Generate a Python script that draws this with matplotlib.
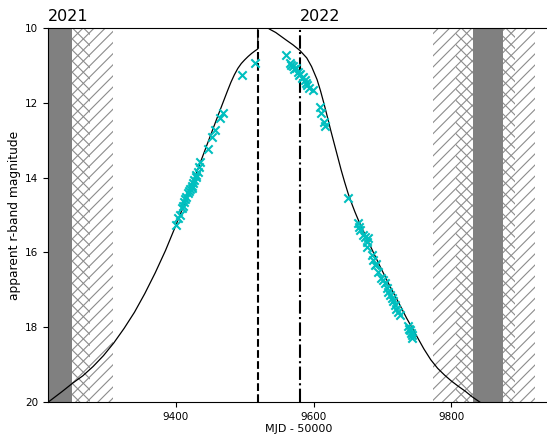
import numpy as np
import matplotlib
matplotlib.use('Agg')
import matplotlib.pyplot as plt

plt.rcParams['hatch.linewidth'] = 0.8

# Observed r-band photometry (MJD - 50000, apparent magnitude)
mjd_rise = [9399.6, 9403.3, 9405.8, 9409.0, 9410.6, 9411.5, 9413.0, 9415.5, 9417.9,
            9419.5, 9421.0, 9422.8, 9424.0, 9425.1, 9427.0, 9428.6, 9430.0, 9431.5,
            9433.8, 9434.8, 9446.0, 9451.8, 9456.6, 9463.9, 9468.6, 9496.3, 9514.7]
mag_rise = [15.27, 15.09, 15.00, 14.82, 14.76, 14.64, 14.58, 14.51, 14.40,
            14.36, 14.30, 14.29, 14.22, 14.15, 14.06, 13.99, 13.92, 13.84,
            13.71, 13.57, 13.24, 12.92, 12.73, 12.41, 12.26, 11.27, 10.94]

mjd_decl = [9559.6, 9565.5, 9567.5, 9569.8, 9572.0, 9574.2, 9577.1, 9578.5, 9580.0,
            9582.9, 9585.0, 9587.2, 9588.7, 9591.0, 9593.0, 9598.8, 9609.0, 9610.4,
            9614.8, 9616.3, 9649.6, 9664.6, 9666.0, 9667.0, 9671.8, 9674.5, 9676.8,
            9677.6, 9678.5, 9684.0, 9686.4, 9688.8, 9691.0, 9693.6, 9698.5, 9700.5,
            9703.3, 9706.0, 9708.1, 9710.5, 9713.1, 9715.0, 9717.9, 9720.0, 9722.6,
            9725.0, 9736.7, 9738.5, 9739.6, 9741.0, 9742.1, 9742.5]
mag_decl = [10.72, 10.94, 11.00, 11.02, 11.10, 11.07, 11.18, 11.25, 11.23,
            11.34, 11.30, 11.39, 11.47, 11.52, 11.60, 11.66, 12.11, 12.27,
            12.51, 12.62, 14.55, 15.22, 15.32, 15.40, 15.53, 15.60, 15.71,
            15.85, 15.62, 16.07, 16.20, 16.34, 16.30, 16.52, 16.69, 16.75,
            16.83, 16.95, 17.05, 17.15, 17.23, 17.30, 17.41, 17.50, 17.59,
            17.68, 17.97, 18.05, 18.07, 18.15, 18.21, 18.30]

# Model light curve (jumps at the peak epoch)
model_mjd = [9200, 9215, 9235, 9250, 9265, 9280, 9295, 9310, 9325, 9340, 9355, 9370,
             9385, 9400, 9410, 9420, 9430, 9440, 9450, 9460, 9470, 9475, 9480, 9485,
             9490, 9495, 9500, 9505, 9510, 9515, 9519,
             9519, 9525, 9530, 9536, 9545, 9560, 9570, 9580, 9590, 9597, 9605, 9610,
             9615, 9620, 9625, 9630, 9635, 9640, 9645, 9650, 9655, 9660, 9665, 9680,
             9695, 9710, 9725, 9735, 9750, 9760, 9770, 9780, 9790, 9800, 9810, 9820,
             9830, 9841, 9860]
model_mag = [20.2, 20.0, 19.72, 19.5, 19.3, 19.05, 18.76, 18.42, 18.03, 17.6, 17.1, 16.55,
             15.95, 15.28, 14.82, 14.35, 13.87, 13.38, 12.89, 12.4, 11.92, 11.68, 11.45, 11.25,
             11.08, 10.95, 10.85, 10.76, 10.68, 10.61, 10.56,
             9.7, 9.85, 9.95, 10.03, 10.12, 10.32, 10.45, 10.6, 10.8, 11.03, 11.38, 11.68,
             12.02, 12.38, 12.75, 13.1, 13.45, 13.8, 14.12, 14.42, 14.68, 14.92, 15.14, 15.74,
             16.32, 16.88, 17.4, 17.76, 18.25, 18.58, 18.87, 19.1, 19.28, 19.44, 19.58, 19.71,
             19.86, 20.0, 20.25]

t_peak = 9519
t_2022 = 59580 - 50000
t_2021 = 59215 - 50000

# unobservable (solid) and constrained (hatched) windows
gray_spans = [(9190, 9249), (9831, 9875)]
back_spans = [(9249, 9275), (9807, 9892)]
fwd_spans = [(9249, 9309), (9773, 9922)]

fig = plt.figure(figsize=(547 / 100, 438 / 100), dpi=100)
ax = fig.add_axes([48 / 547, 36 / 438, 501 / 547, 374 / 438])

for lo, hi in fwd_spans:
    ax.axvspan(lo, hi, facecolor='none', edgecolor='0.55', hatch='///', lw=0, zorder=1)
for lo, hi in back_spans:
    ax.axvspan(lo, hi, facecolor='none', edgecolor='0.55', hatch='\\\\\\', lw=0, zorder=1)
for lo, hi in gray_spans:
    ax.axvspan(lo, hi, color='gray', lw=0, zorder=2)

ax.plot(model_mjd, model_mag, color='k', lw=0.9, zorder=3)
ax.axvline(t_peak, color='k', ls='--', lw=1.5, zorder=3)
ax.axvline(t_2022, color='k', ls='-.', lw=1.5, zorder=3)

ax.scatter(mjd_rise + mjd_decl, mag_rise + mag_decl, marker='x', color='c',
           s=36, linewidths=1.5, zorder=4)

ax.set_xlim(9214.5, 9941.6)
ax.set_ylim(20, 10)
ax.set_xticks([9400, 9600, 9800])
ax.set_yticks([10, 12, 14, 16, 18, 20])
ax.tick_params(labelsize=7.5)
ax.set_xlabel('MJD - 50000', fontsize=8.0, labelpad=2)
ax.set_ylabel('apparent r-band magnitude', fontsize=8.8, labelpad=3)

for t, lab in [(t_2021, '2021'), (t_2022, '2022')]:
    ax.text(t, 1.012, lab, transform=ax.get_xaxis_transform(), ha='left',
            va='bottom', fontsize=11.5)

fig.savefig('out.png', dpi=100)
